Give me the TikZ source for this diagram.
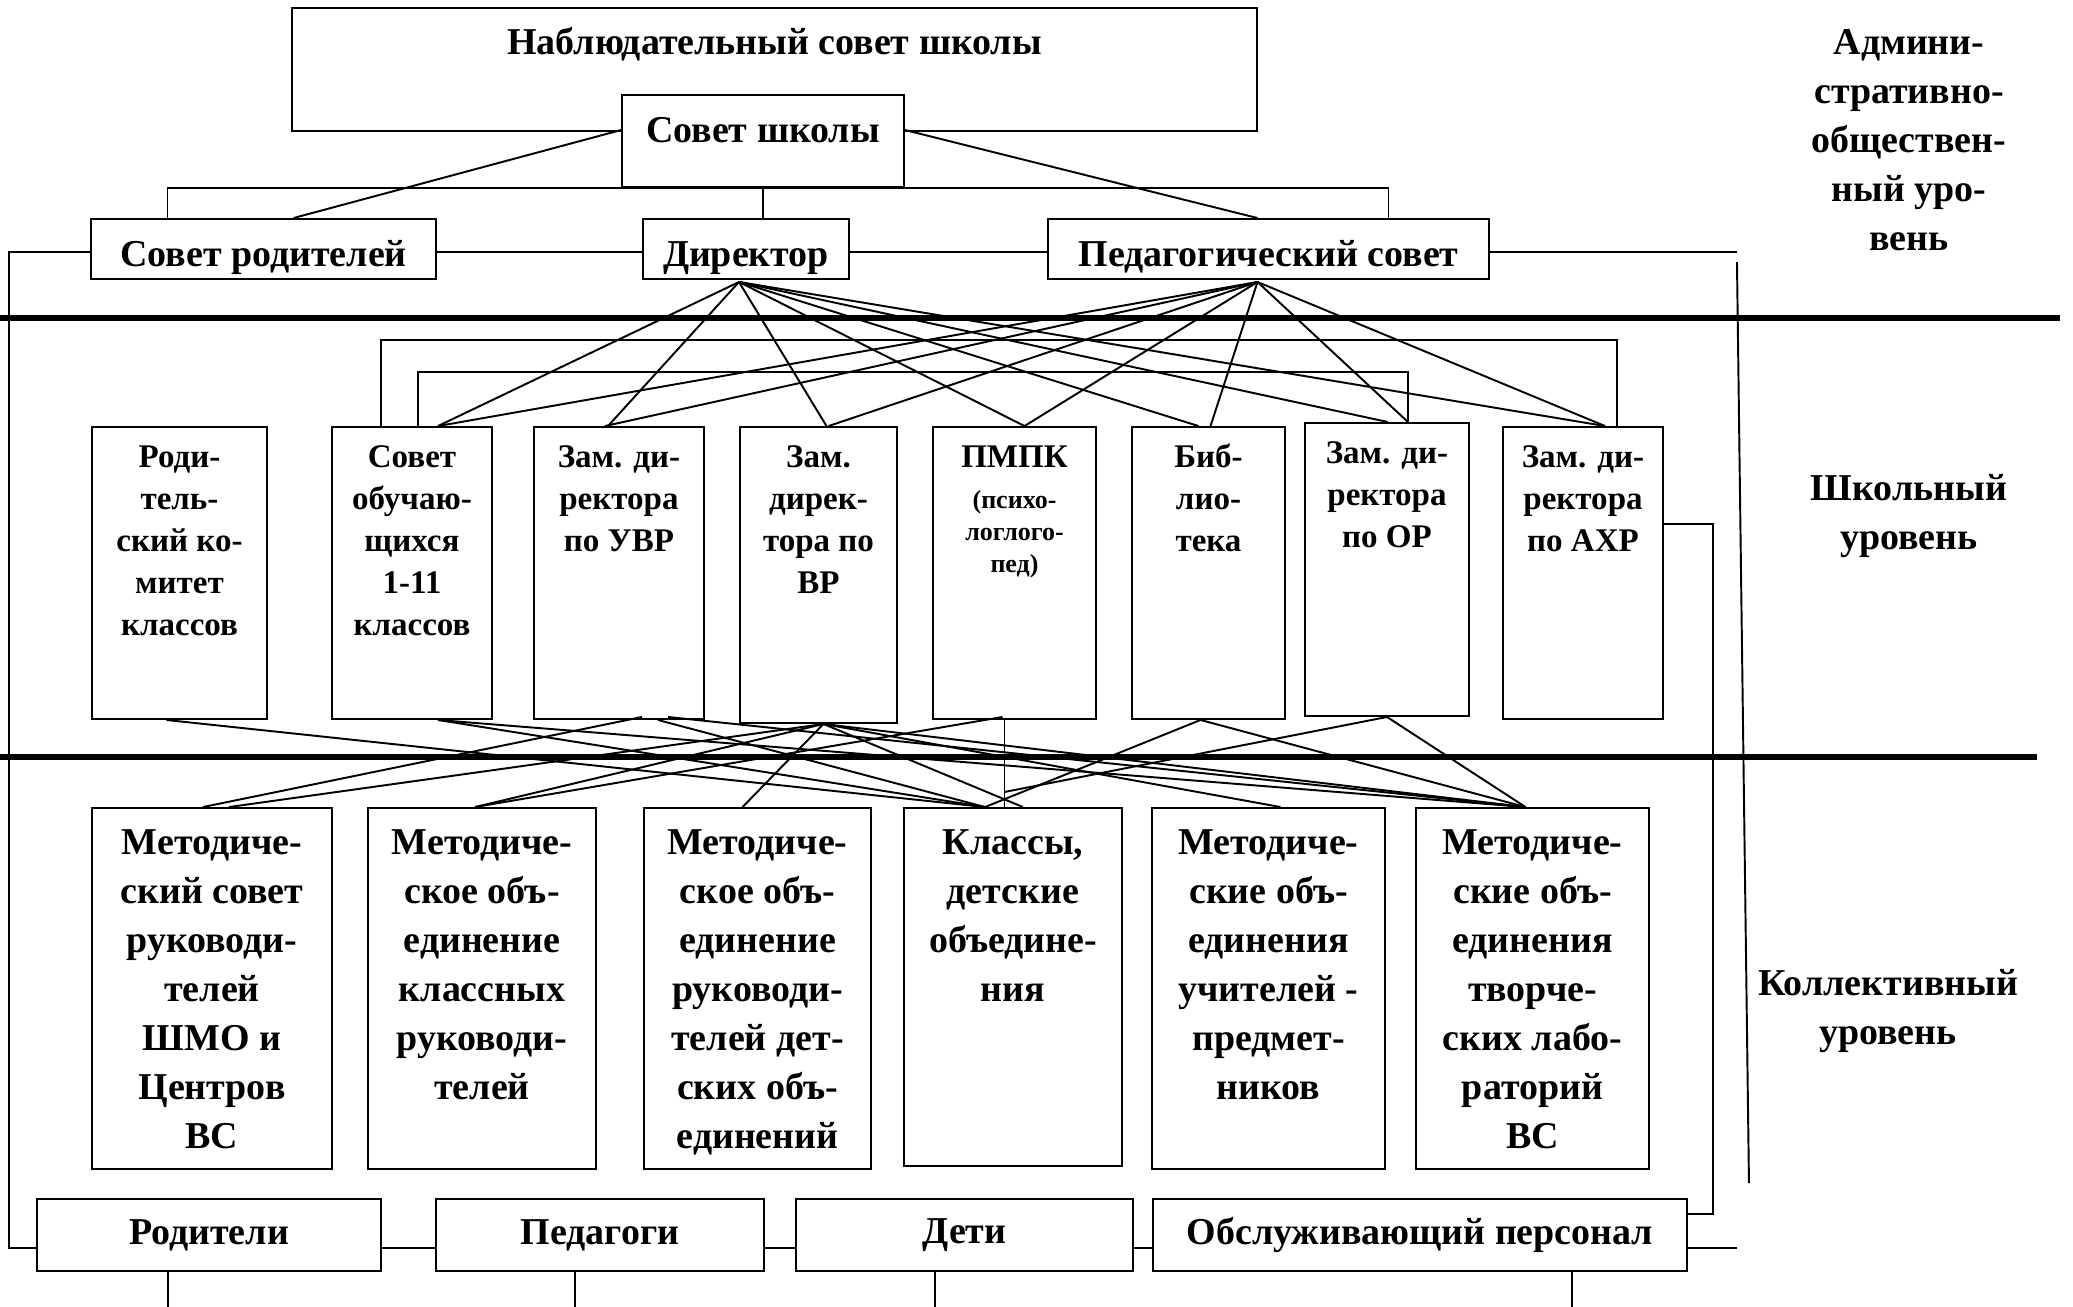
\documentclass[tikz,border=0pt]{standalone}
\usepackage{fontspec}
\setmainfont{Liberation Serif}
\usetikzlibrary{calc}

\newlength{\px}\setlength{\px}{0.02cm}
\newcommand{\fmain}{\fontsize{21.6}{27.9}\selectfont\bfseries}
\newcommand{\frow}{\fontsize{18.8}{23.9}\selectfont\bfseries}
\newcommand{\fsub}{\fontsize{14.8}{18.2}\selectfont\bfseries}
% box with text set from the top
\newcommand{\cell}[4]{\parbox[c][#2\px][t]{#1\px}{\vspace*{#3\px}\centering\strut#4\par}}

\tikzset{
  box/.style={draw, fill=white, line width=1.1pt, inner sep=0pt, font=\fmain},
  rowbox/.style={box, font=\frow},
  headbox/.style={box, minimum height=60\px, text height=40\px, text depth=5\px},
  lnk/.style={line width=1.1pt},
  bar/.style={line width=3.4pt},
  lvl/.style={align=center, font=\fmain}
}

\begin{document}
\begin{tikzpicture}[x=0.02cm, y=-0.02cm]
\useasboundingbox (0,0) rectangle (2073,1306);

% administrative level
\node[box] (nab) at (774.5,69.5) {\cell{965}{123}{12}{Наблюдательный совет школы}};
\node[box] (ss) at (763,141) {\cell{282}{92}{13}{Совет школы}};
\node[headbox, minimum width=345\px] (sr) at (263.5,249) {Совет родителей};
\node[headbox, minimum width=206\px] (dir) at (746,249) {Директор};
\node[headbox, minimum width=441\px] (ped) at (1268.5,249) {Педагогический совет};

% school level
\node[rowbox] (rk) at (179.5,573) {\cell{175}{292}{11.5}{Роди-\\тель-\\ский ко-\\митет\\классов}};
\node[rowbox] (so) at (412,573) {\cell{160}{292}{11.5}{Совет\\обучаю-\\щихся\\1-11\\классов}};
\node[rowbox] (zuvr) at (619,573) {\cell{170}{292}{11.5}{Зам. ди-\\ректора\\по УВР}};
\node[rowbox] (zvr) at (818.5,575) {\cell{157}{296}{11.5}{Зам.\\дирек-\\тора по\\ВР}};
\node[rowbox] (pmpk) at (1014.5,573) {\parbox[c][292\px][t]{163\px}{\vspace*{11.5\px}\centering\strut ПМПК\par
  \fsub\vspace{9\px}(психо-\\логлого-\\пед)\par}};
\node[rowbox] (bib) at (1208.5,573) {\cell{153}{292}{11.5}{Биб-\\лио-\\тека}};
\node[rowbox] (zor) at (1387,569.5) {\cell{164}{293}{11.5}{Зам. ди-\\ректора\\по ОР}};
\node[rowbox] (zaxr) at (1583,573) {\cell{160}{292}{11.5}{Зам. ди-\\ректора\\по АХР}};

% collective level
\node[box] (ms) at (212,988.5) {\cell{240}{361}{12}{Методиче-\\ский совет\\руководи-\\телей\\ШМО и\\Центров\\ВС}};
\node[box] (mk) at (482,988.5) {\cell{228}{361}{12}{Методиче-\\ское объ-\\единение\\классных\\руководи-\\телей}};
\node[box] (md) at (757.5,988.5) {\cell{227}{361}{12}{Методиче-\\ское объ-\\единение\\руководи-\\телей дет-\\ских объ-\\единений}};
\node[box] (kl) at (1013,987) {\cell{218}{358}{12}{Классы,\\детские\\объедине-\\ния}};
\node[box] (mu) at (1268.5,988.5) {\cell{233}{361}{12}{Методиче-\\ские объ-\\единения\\учителей -\\предмет-\\ников}};
\node[box] (mt) at (1532.5,988.5) {\cell{233}{361}{12}{Методиче-\\ские объ-\\единения\\творче-\\ских лабо-\\раторий\\ВС}};

% participants
\node[box, minimum width=344\px, minimum height=72\px] (rod) at (209,1235) {Родители};
\node[box, minimum width=328\px, minimum height=72\px] (ped2) at (600,1235) {Педагоги};
\node[box, minimum width=337\px, minimum height=72\px] (deti) at (964.5,1235) {Дети};
\node[box, minimum width=534\px, minimum height=72\px] (obs) at (1420,1235) {Обслуживающий персонал};

% level names
\node[lvl] (lv1) at (1909,140.5) {Админи-\\стративно-\\обществен-\\ный уро-\\вень};
\node[lvl] (lv2) at (1909,516.5) {Школьный\\уровень};
\node[lvl] (lv3) at (1888,1011.5) {Коллективный\\уровень};

% separators
\draw[bar] (0,318) -- (2060,318);
\draw[bar] (0,757) -- (2037,757);

% top links
\draw[lnk] ($(sr.north)+(-96,0)$) |- (ss.south) -| ($(ped.north)+(120,0)$);
\draw[lnk] (ss.south) -- (ss.south |- dir.north);
\draw[lnk] ($(ss.north west)+(0,36)$) -- ($(sr.north)+(30,0)$);
\draw[lnk] ($(ss.north east)+(0,36)$) -- ($(ped.north)+(-11,0)$);
\draw[lnk] ($(sr.east)+(0,3)$) -- ($(dir.west)+(0,3)$);
\draw[lnk] ($(dir.east)+(0,3)$) -- ($(ped.west)+(0,3)$);
\draw[lnk] ($(sr.west)+(0,3)$) -| ($(rod.west)+(-27,13)$) -- ($(rod.west)+(0,13)$);
\draw[lnk] ($(ped.east)+(0,3)$) -- ++(247,0) coordinate (pe);
\draw[lnk] ($(pe)+(0,10)$) -- ($(pe)+(12,931)$);
\draw[lnk] ($(rk.north)+(-12,0)$) -- ($(rk.north)+(-12,0)$ |- sr.south);

% director and pedagogical council
\coordinate (dA) at ($(dir.south)+(-7,2)$);
\coordinate (pA) at ($(ped.south)+(-11,2)$);
\foreach \n/\d in {so/26, zuvr/-11, zvr/8, pmpk/10, bib/-10, zor/1, zaxr/22}
  \draw[lnk] (dA) -- ($(\n.north)+(\d,0)$);
\foreach \n/\d in {so/26, zuvr/-14, zvr/10, pmpk/10, bib/2, zor/21, zaxr/22}
  \draw[lnk] (pA) -- ($(\n.north)+(\d,0)$);
\draw[lnk] ($(so.north)+(6,0)$) -- ++(0,-54) -| ($(zor.north)+(21,0)$);
\draw[lnk] ($(so.north)+(-31,0)$) -- ++(0,-86) -| ($(zaxr.north)+(34,0)$);
\draw[lnk] ($(zaxr.east)+(0,-49)$) -| ($(obs.east)+(25,-21)$) -- ($(obs.east)+(0,-21)$);

% school level to collective level
\coordinate (r1) at ($(rk.south)+(-13,0)$);
\coordinate (s1) at ($(so.south)+(26,0)$);
\coordinate (u1) at ($(zuvr.south)+(23,-3)$);
\coordinate (u2) at ($(zuvr.south)+(39,0)$);
\coordinate (u3) at ($(zuvr.south)+(49,-3)$);
\coordinate (v1) at ($(zvr.south)+(5,0)$);
\coordinate (p1) at ($(pmpk.south)+(-12,-3)$);
\coordinate (p2) at ($(pmpk.south)+(-10,0)$);
\coordinate (b1) at ($(bib.south)+(-8,0)$);
\coordinate (o1) at (zor.south);
\coordinate (kA) at ($(kl.north)+(-28,0)$);
\coordinate (kB) at ($(kl.north)+(10,0)$);
\coordinate (tA) at ($(mt.north)+(-7,0)$);
\foreach \a/\b in {r1/kA, s1/kA, u2/kA, b1/kA, v1/kB, u3/tA, v1/tA, b1/tA, o1/tA, s1/tA}
  \draw[lnk] (\a) -- (\b);
\draw[lnk] (u1) -- ($(ms.north)+(-9,0)$);
\draw[lnk] (v1) -- ($(ms.north)+(17,0)$);
\draw[lnk] (v1) -- ($(mk.north)+(-7,0)$);
\draw[lnk] (p1) -- ($(mk.north)+(-7,0)$);
\draw[lnk] (v1) -- ($(md.north)+(-15,0)$);
\draw[lnk] (v1) -- ($(mu.north)+(12,0)$);
\draw[lnk] (p2) -- (p2 |- kl.north);
\draw[lnk] (o1) -- ($(p2)+(0,72)$);

% bottom links
\draw[lnk] ($(rod.east)+(0,13)$) -- ($(ped2.west)+(0,13)$);
\draw[lnk] ($(ped2.east)+(0,13)$) -- ($(deti.west)+(0,13)$);
\draw[lnk] ($(deti.east)+(0,13)$) -- ($(obs.west)+(0,13)$);
\draw[lnk] ($(obs.east)+(0,13)$) -- ++(49,0);
\foreach \n/\d in {rod/-41, ped2/-25, deti/-29.5, obs/152}
  \draw[lnk] ($(\n.south)+(\d,0)$) -- ++(0,40);
\end{tikzpicture}
\end{document}
